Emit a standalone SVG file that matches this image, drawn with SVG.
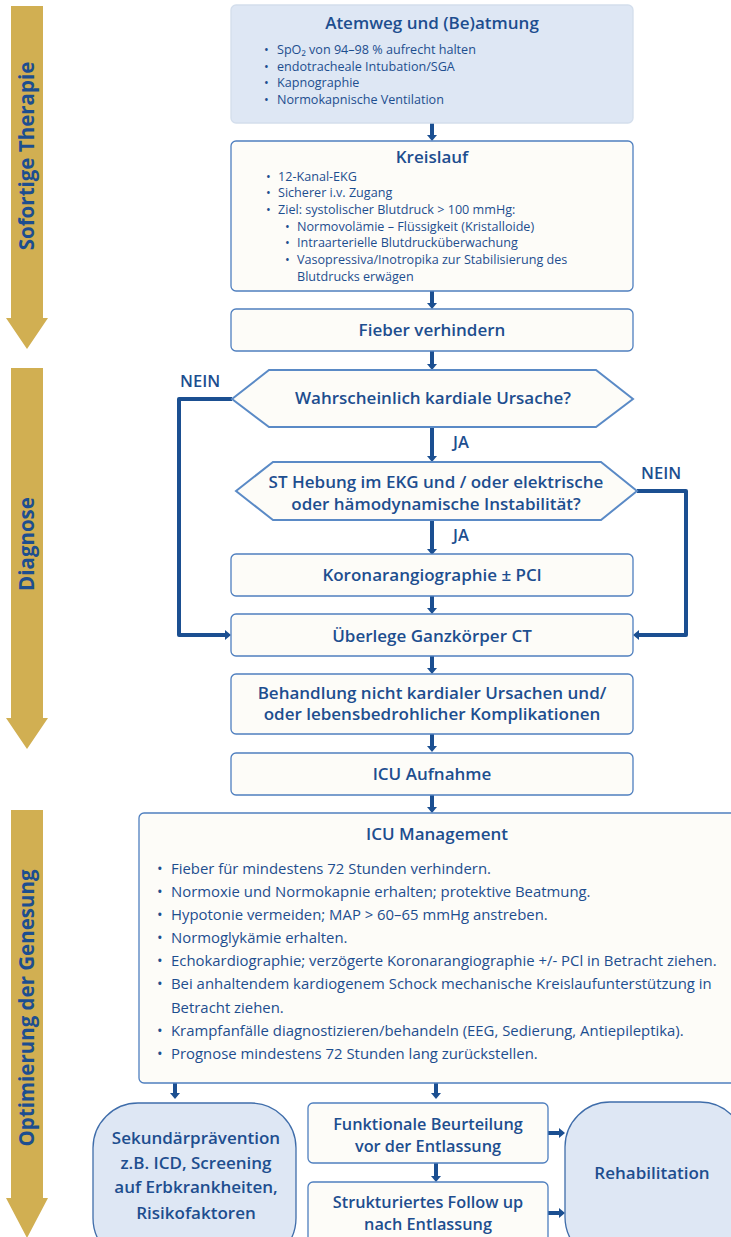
<svg xmlns="http://www.w3.org/2000/svg" width="731" height="1237" viewBox="0 0 731 1237">
<defs>
<style>
.t{font-family:"Open Sans","Noto Sans",sans-serif;fill:#1D4E8F}
.h{font-size:17px;font-weight:600;text-anchor:middle}
.h2{font-size:16.3px;font-weight:600;text-anchor:middle}
.s{font-size:12.6px}
.m{font-size:14.9px}
.lab{font-size:16.5px;font-weight:600}
.side{font-size:20.5px;font-weight:700;text-anchor:middle}
.box{fill:#FDFCF8;stroke:#4F7FBF;stroke-width:1.3}
.lb{fill:#DEE7F4;stroke:#D3DEEC;stroke-width:1.3}
.rb{fill:#DEE7F4;stroke:#3F6DAA;stroke-width:1.3}
.hex{fill:#FDFCF8;stroke:#5A8AC6;stroke-width:2}
.gold{fill:#D1AF52}
.c{fill:none;stroke:#1B4F91;stroke-width:4;stroke-linejoin:round;marker-end:url(#ah)}
</style>
<marker id="ah" markerUnits="userSpaceOnUse" viewBox="0 0 6 10" refX="2" refY="5" markerWidth="6" markerHeight="10" orient="auto">
<path d="M0,0 L6,5 L0,10 z" fill="#1B4F91"/>
</marker>
</defs>

<g id="phase-arrows">
<polygon class="gold" points="11,6 43,6 43,318 48,318 27,349 6,318 11,318"/>
<text class="t side" transform="translate(34,156) rotate(-90)">Sofortige Therapie</text>
<polygon class="gold" points="11,368 43,368 43,718 48,718 27,749 6,718 11,718"/>
<text class="t side" transform="translate(34,544) rotate(-90)">Diagnose</text>
<polygon class="gold" points="11,810 43,810 43,1198 48,1198 27,1238 6,1198 11,1198"/>
<text class="t side" transform="translate(34,1008) rotate(-90)">Optimierung der Genesung</text>
</g>

<g id="connectors">
<path class="c" d="M432,123 V137"/>
<path class="c" d="M432,291 V305"/>
<path class="c" d="M432,351 V366"/>
<path class="c" d="M432,427 V458"/>
<path class="c" d="M432,520 V551"/>
<path class="c" d="M432,596 V610"/>
<path class="c" d="M432,656 V670"/>
<path class="c" d="M432,734 V748"/>
<path class="c" d="M432,795 V809"/>
<path class="c" d="M232,399 H179 V635 H227"/>
<path class="c" d="M637,491 H686 V635 H637"/>
<path class="c" d="M175,1083 V1095"/>
<path class="c" d="M436,1083 V1095"/>
<path class="c" d="M436,1163 V1178"/>
<path class="c" d="M548,1133 H561"/>
<path class="c" d="M548,1213 H561"/>
<text class="t lab" x="180" y="387">NEIN</text>
<text class="t lab" x="453" y="448">JA</text>
<text class="t lab" x="641" y="479">NEIN</text>
<text class="t lab" x="453" y="541">JA</text>
</g>

<g id="atemweg">
<rect class="lb" x="231" y="5" width="402" height="118" rx="5"/>
<text class="t h" x="432" y="29">Atemweg und (Be)atmung</text>
<text class="t s"><tspan x="264" y="54">•</tspan><tspan x="277" y="54">SpO₂ von 94–98 % aufrecht halten</tspan></text>
<text class="t s"><tspan x="264" y="71">•</tspan><tspan x="277" y="71">endotracheale Intubation/SGA</tspan></text>
<text class="t s"><tspan x="264" y="87">•</tspan><tspan x="277" y="87">Kapnographie</tspan></text>
<text class="t s"><tspan x="264" y="104">•</tspan><tspan x="277" y="104">Normokapnische Ventilation</tspan></text>
</g>

<g id="kreislauf">
<rect class="box" x="231" y="141" width="402" height="150" rx="5"/>
<text class="t h" x="432" y="163">Kreislauf</text>
<text class="t s"><tspan x="266" y="181">•</tspan><tspan x="278" y="181">12-Kanal-EKG</tspan></text>
<text class="t s"><tspan x="266" y="197">•</tspan><tspan x="278" y="197">Sicherer i.v. Zugang</tspan></text>
<text class="t s"><tspan x="266" y="214">•</tspan><tspan x="278" y="214">Ziel: systolischer Blutdruck &gt; 100 mmHg:</tspan></text>
<text class="t s"><tspan x="285" y="231">•</tspan><tspan x="297" y="231">Normovolämie – Flüssigkeit (Kristalloide)</tspan></text>
<text class="t s"><tspan x="285" y="247">•</tspan><tspan x="297" y="247">Intraarterielle Blutdrucküberwachung</tspan></text>
<text class="t s"><tspan x="285" y="264">•</tspan><tspan x="297" y="264">Vasopressiva/Inotropika zur Stabilisierung des</tspan></text>
<text class="t s" x="297" y="281">Blutdrucks erwägen</text>
</g>

<g id="fieber">
<rect class="box" x="231" y="309" width="402" height="42" rx="5"/>
<text class="t h" x="432" y="336">Fieber verhindern</text>
</g>

<g id="kardial">
<polygon class="hex" points="232,399 269,370 596,370 633,399 596,427 269,427"/>
<text class="t h" x="433" y="404">Wahrscheinlich kardiale Ursache?</text>
</g>

<g id="st-hebung">
<polygon class="hex" points="236,491 273,462 601,462 637,491 601,520 273,520"/>
<text class="t h" x="436" y="488">ST Hebung im EKG und / oder elektrische</text>
<text class="t h" x="436" y="510">oder hämodynamische Instabilität?</text>
</g>

<g id="koronar">
<rect class="box" x="231" y="554" width="402" height="42" rx="5"/>
<text class="t h" x="432" y="581">Koronarangiographie ± PCl</text>
</g>

<g id="ct">
<rect class="box" x="231" y="614" width="402" height="42" rx="5"/>
<text class="t h" x="432" y="642">Überlege Ganzkörper CT</text>
</g>

<g id="behandlung">
<rect class="box" x="231" y="674" width="402" height="60" rx="5"/>
<text class="t h" x="432" y="699">Behandlung nicht kardialer Ursachen und/</text>
<text class="t h" x="432" y="720">oder lebensbedrohlicher Komplikationen</text>
</g>

<g id="icu-aufnahme">
<rect class="box" x="231" y="753" width="402" height="42" rx="5"/>
<text class="t h" x="432" y="780">ICU Aufnahme</text>
</g>

<g id="icu-management">
<rect class="box" x="139" y="813" width="605" height="270" rx="5"/>
<text class="t h" x="437" y="840">ICU Management</text>
<text class="t m"><tspan x="157" y="874">•</tspan><tspan x="171" y="874">Fieber für mindestens 72 Stunden verhindern.</tspan></text>
<text class="t m"><tspan x="157" y="897">•</tspan><tspan x="171" y="897">Normoxie und Normokapnie erhalten; protektive Beatmung.</tspan></text>
<text class="t m"><tspan x="157" y="920">•</tspan><tspan x="171" y="920">Hypotonie vermeiden; MAP &gt; 60–65 mmHg anstreben.</tspan></text>
<text class="t m"><tspan x="157" y="943">•</tspan><tspan x="171" y="943">Normoglykämie erhalten.</tspan></text>
<text class="t m"><tspan x="157" y="966">•</tspan><tspan x="171" y="966">Echokardiographie; verzögerte Koronarangiographie +/- PCl in Betracht ziehen.</tspan></text>
<text class="t m"><tspan x="157" y="989">•</tspan><tspan x="171" y="989">Bei anhaltendem kardiogenem Schock mechanische Kreislaufunterstützung in</tspan></text>
<text class="t m" x="171" y="1013">Betracht ziehen.</text>
<text class="t m"><tspan x="157" y="1036">•</tspan><tspan x="171" y="1036">Krampfanfälle diagnostizieren/behandeln (EEG, Sedierung, Antiepileptika).</tspan></text>
<text class="t m"><tspan x="157" y="1059">•</tspan><tspan x="171" y="1059">Prognose mindestens 72 Stunden lang zurückstellen.</tspan></text>
</g>

<g id="sekundaer">
<rect class="rb" x="93" y="1103" width="203" height="160" rx="45"/>
<text class="t h" x="196" y="1144">Sekundärprävention</text>
<text class="t h" x="196" y="1169">z.B. ICD, Screening</text>
<text class="t h" x="196" y="1193">auf Erbkrankheiten,</text>
<text class="t h" x="196" y="1219">Risikofaktoren</text>
</g>

<g id="funktionale">
<rect class="box" x="308" y="1103" width="240" height="60" rx="5"/>
<text class="t h2" x="428" y="1130">Funktionale Beurteilung</text>
<text class="t h2" x="428" y="1152">vor der Entlassung</text>
</g>

<g id="follow-up">
<rect class="box" x="308" y="1182" width="240" height="70" rx="5"/>
<text class="t h2" x="428" y="1208">Strukturiertes Follow up</text>
<text class="t h2" x="428" y="1230">nach Entlassung</text>
</g>

<g id="rehabilitation">
<rect class="rb" x="565" y="1102" width="180" height="160" rx="45"/>
<text class="t h" x="652" y="1179">Rehabilitation</text>
</g>
</svg>
